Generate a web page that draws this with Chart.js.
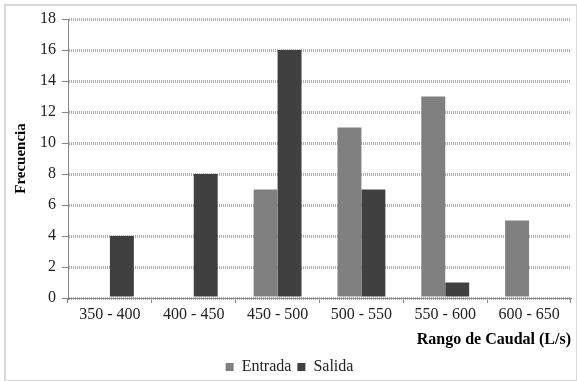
<!DOCTYPE html>
<html>
<head>
<meta charset="utf-8">
<script src="https://cdn.jsdelivr.net/npm/chart.js@4"></script>
<style>
	html, body { margin: 0; padding: 0; background: #fff; }
	#wrap { position: relative; width: 577px; height: 381px; }
	#frame { position: absolute; left: 4px; top: 4px; width: 570px; height: 374px; border: 2px solid #d9d9d9; }
	canvas { position: absolute; left: 0; top: 0; }
</style>
</head>
<body>
<div id="wrap">
	<div id="frame"></div>
	<canvas id="chart-caudal" width="577" height="381"></canvas>
</div>
<script>
// Data
const CATEGORIES = ["350 - 400", "400 - 450", "450 - 500", "500 - 550", "550 - 600", "600 - 650"];
const ENTRADA = [0, 0, 7, 11, 13, 5];
const SALIDA = [4, 8, 16, 7, 1, 0];
const Y_MIN = 0;
const Y_MAX = 18;
const Y_STEP = 2;

const FONT = "'Liberation Serif', 'Times New Roman', serif";

const CHART_WRAPPER = document.getElementById("chart-caudal");

const CHART_DATA = {
	labels: CATEGORIES,
	datasets: [
		{
			label: "Entrada",
			data: ENTRADA,
			backgroundColor: "#808080",
			borderWidth: 0,
			categoryPercentage: 0.571,
			barPercentage: 1,
		},
		{
			label: "Salida",
			data: SALIDA,
			backgroundColor: "#404040",
			borderWidth: 0,
			categoryPercentage: 0.571,
			barPercentage: 1,
		},
	],
};

const CHART_CONFIG = {
	type: "bar",
	data: CHART_DATA,
	options: {
		responsive: false,
		animation: false,
		layout: {
			padding: { left: 8, right: 6, top: 19, bottom: -4 },
		},
		scales: {
			x: {
				border: { display: true, color: "#868686", width: 1 },
				grid: {
					drawOnChartArea: false,
					drawTicks: true,
					tickLength: 5,
					tickColor: "#868686",
				},
				ticks: {
					color: "#222",
					font: { family: FONT, size: 16 },
					padding: 2,
					maxRotation: 0,
				},
				title: {
					display: true,
					text: "Rango de Caudal (L/s)",
					align: "end",
					color: "#000",
					font: { family: FONT, size: 16, weight: "bold" },
					padding: { top: 3, bottom: 4 },
				},
				afterFit: (scale) => {
					scale.height = 55;
				},
			},
			y: {
				min: Y_MIN,
				max: Y_MAX,
				border: { display: true, color: "#868686", width: 1, dash: [1, 1] },
				grid: {
					color: "#b0b0b0",
					lineWidth: 3,
					drawTicks: true,
					tickLength: 6,
					tickColor: "#868686",
					tickWidth: 1,
					tickBorderDash: [],
				},
				ticks: {
					stepSize: Y_STEP,
					color: "#222",
					font: { family: FONT, size: 16 },
					padding: 6,
				},
				title: {
					display: true,
					text: "Frecuencia",
					color: "#000",
					font: { family: FONT, size: 15, weight: "bold" },
					padding: { bottom: 4 },
				},
			},
		},
		plugins: {
			legend: {
				position: "bottom",
				labels: {
					boxWidth: 8,
					boxHeight: 8,
					color: "#222",
					padding: 6,
					font: { family: FONT, size: 16 },
				},
			},
			tooltip: { enabled: false },
		},
	},
};

if (CHART_WRAPPER) {
	new Chart(CHART_WRAPPER, CHART_CONFIG);
}
</script>
</body>
</html>
